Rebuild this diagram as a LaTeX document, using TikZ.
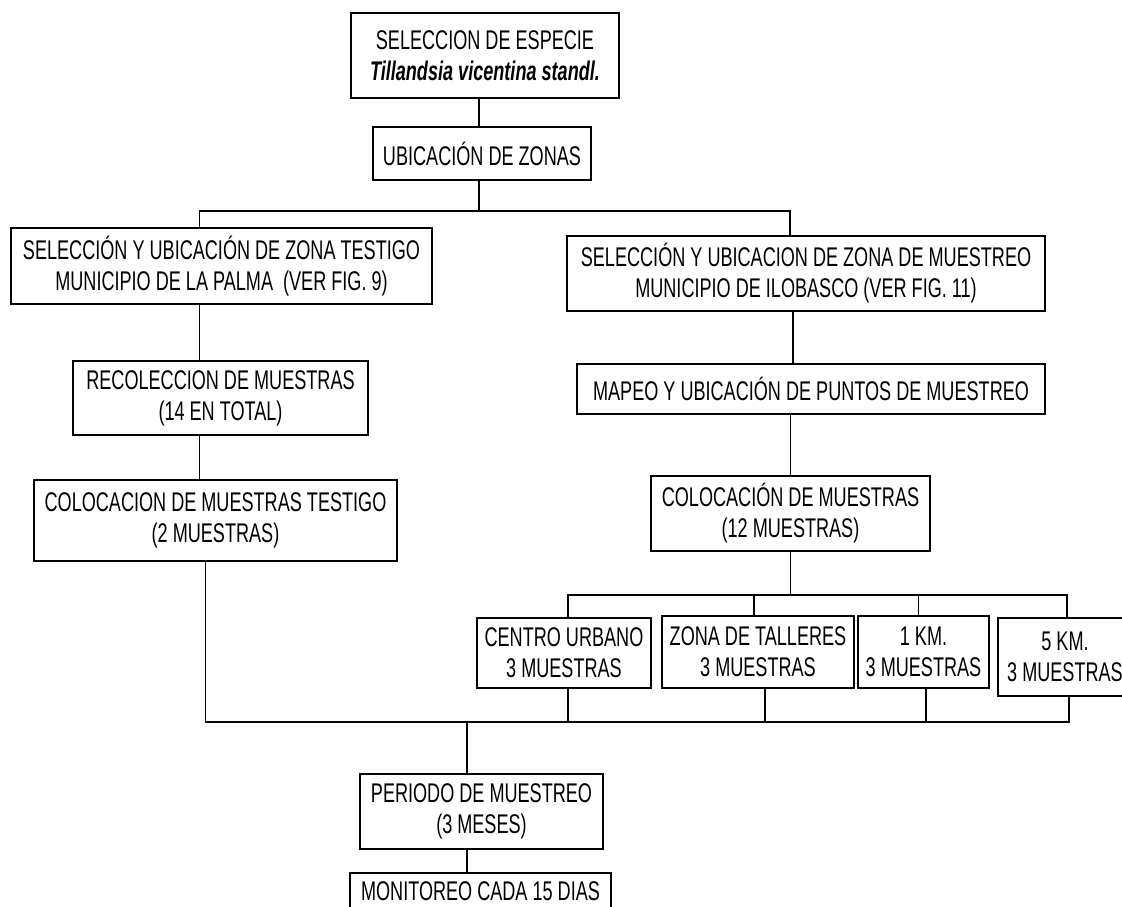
\documentclass[tikz,border=0pt]{standalone}
\usepackage{fontspec}
\setmainfont{Liberation Sans}[FakeStretch=0.67]

\begin{document}
\begin{tikzpicture}[x=1pt,y=-1pt,
  box/.style={draw,line width=1.4pt,inner sep=0pt,align=center,font=\fontsize{27}{31}\selectfont},
  line/.style={draw,line width=1.4pt}
]
\clip (0,0) rectangle (1122,906);
\fill[white] (0,0) rectangle (1122,906);
% main column
\node[box,minimum width=268pt,minimum height=85pt] (esp) at (485,55.5) {SELECCION DE ESPECIE\\\textbf{\textit{Tillandsia vicentina standl.}}};
\node[box,minimum width=218pt,minimum height=53pt] (ubic) at (482,153.5) {UBICACIÓN DE ZONAS};
% left branch
\node[box,minimum width=421pt,minimum height=76pt] (testigo) at (221.5,266) {SELECCIÓN Y UBICACIÓN DE ZONA TESTIGO\\MUNICIPIO DE LA PALMA~ (VER FIG. 9)};
\node[box,minimum width=295pt,minimum height=74pt] (recol) at (220.5,398) {RECOLECCION DE MUESTRAS\\(14 EN TOTAL)};
\node[box,minimum width=363pt,minimum height=81pt] (coltest) at (215.5,520.5) {COLOCACION DE MUESTRAS TESTIGO\\(2 MUESTRAS)};
% right branch
\node[box,minimum width=478pt,minimum height=75pt] (muestreo) at (806,273.5) {SELECCIÓN Y UBICACION DE ZONA DE MUESTREO\\MUNICIPIO DE ILOBASCO (VER FIG. 11)};
\node[box,minimum width=468pt,minimum height=50pt] (mapeo) at (811,389) {MAPEO Y UBICACIÓN DE PUNTOS DE MUESTREO};
\node[box,minimum width=279pt,minimum height=75pt] (col12) at (790.5,513.5) {COLOCACIÓN DE MUESTRAS\\(12 MUESTRAS)};
\node[box,minimum width=174pt,minimum height=70pt] (centro) at (564,653) {CENTRO URBANO\\3 MUESTRAS};
\node[box,minimum width=192pt,minimum height=72pt] (talleres) at (758,652) {ZONA DE TALLERES\\3 MUESTRAS};
\node[box,minimum width=131pt,minimum height=72pt] (km1) at (923.5,652) {1 KM.\\3 MUESTRAS};
\node[box,minimum width=134pt,minimum height=78pt] (km5) at (1065,657) {5 KM.\\3 MUESTRAS};
% bottom
\node[box,minimum width=243pt,minimum height=75pt] (periodo) at (481.5,811.5) {PERIODO DE MUESTREO\\(3 MESES)};
\node[box,minimum width=261pt,minimum height=36pt] (monit) at (480.5,891) {MONITOREO CADA 15 DIAS};

\coordinate (j1) at (479,211);
\coordinate (j2) at (789,595);
\coordinate (j3) at (467,722);

\draw[line] (esp.south -| j1) -- (ubic.north -| j1);
\draw[line] (ubic.south -| j1) -- (j1);
\draw[line] ([xshift=-22pt]testigo.north) |- (j1) -| ([xshift=-16pt]muestreo.north);
\draw[line] ([xshift=-21pt]recol.north) -- ([xshift=-21pt]recol.north |- testigo.south);
\draw[line] ([xshift=-21pt]recol.south) -- ([xshift=-21pt]recol.south |- coltest.north);
\draw[line] ([xshift=-13pt]muestreo.south) -- ([xshift=-13pt]muestreo.south |- mapeo.north);
\draw[line] (col12.north) -- (col12.north |- mapeo.south);
\draw[line] (col12.south) -- (col12.south |- j2);
\draw[line] ([xshift=4pt]centro.north) |- (j2) -| ([xshift=2pt]km5.north);
\foreach \n/\s in {talleres/-4,km1/-5} {
  \draw[line] ([xshift=\s pt]\n.north) -- ([xshift=\s pt]\n.north |- j2);
}
\draw[line] ([xshift=-10pt]coltest.south) |- (j3) -| ([xshift=4pt]km5.south);
\foreach \n/\s in {centro/4,talleres/7,km1/2.5} {
  \draw[line] ([xshift=\s pt]\n.south) -- ([xshift=\s pt]\n.south |- j3);
}
\draw[line] (j3) -- (periodo.north -| j3);
\draw[line] (periodo.south -| j3) -- (monit.north -| j3);
\end{tikzpicture}
\end{document}
